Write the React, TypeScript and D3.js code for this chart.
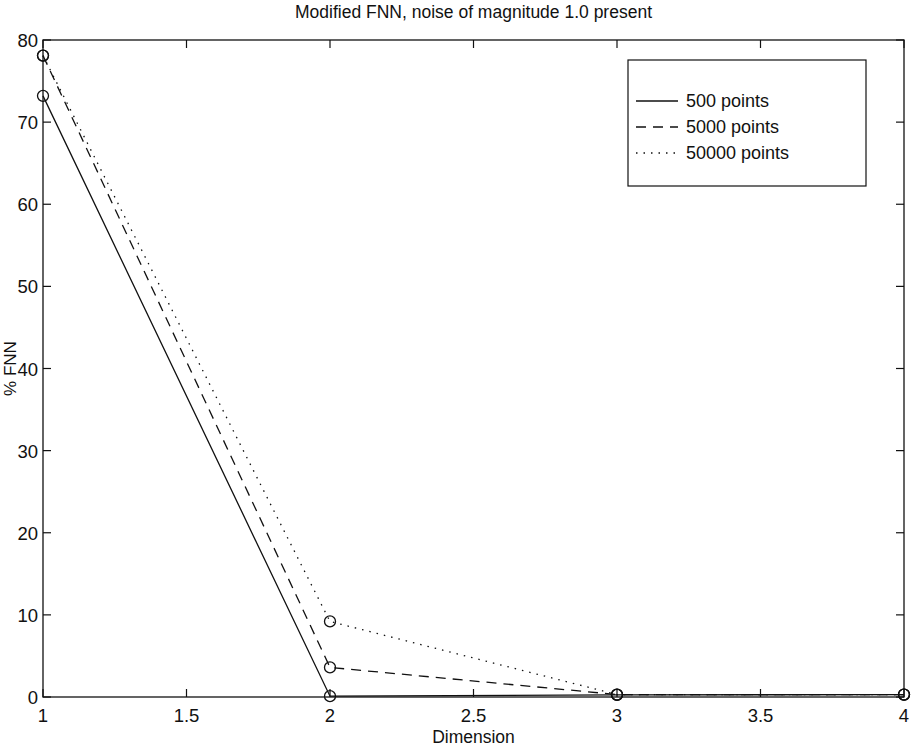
import React from "react";
import * as d3 from "d3";

const dimensions = [1, 2, 3, 4];
const fnn500 = [73.2, 0.1, 0.25, 0.3];
const fnn5000 = [78.1, 3.6, 0.3, 0.3];
const fnn50000 = [78.1, 9.2, 0.3, 0.3];
const seriesLabels = ["500 points", "5000 points", "50000 points"];
const xTicks = [1, 1.5, 2, 2.5, 3, 3.5, 4];
const yTicks = [0, 10, 20, 30, 40, 50, 60, 70, 80];

const W = 911, H = 751;
const L = 43, R = 904, T = 40, B = 697;

export default function App() {
  const x = d3.scaleLinear().domain([1, 4]).range([L, R]);
  const y = d3.scaleLinear().domain([0, 80]).range([B, T]);
  const line = d3.line<number>().x((_, i) => x(dimensions[i])).y((d) => y(d));
  const series = [
    { v: fnn500, dash: undefined as string | undefined },
    { v: fnn5000, dash: "10,7" },
    { v: fnn50000, dash: "1.5,6" },
  ];
  const font = "'Liberation Sans', Arial, Helvetica, sans-serif";
  const lg = { x: 628, y: 60, w: 238, h: 126 };
  return (
    <svg width={W} height={H} style={{ position: "absolute", left: 0, top: 0, background: "#fff" }} fontFamily={font}>
      <rect x={0} y={0} width={W} height={H} fill="#fff" />
      <text x={(L + R) / 2} y={18} textAnchor="middle" fontSize={17.5} fill="#111">
        Modified FNN, noise of magnitude 1.0 present
      </text>
      <rect x={L} y={T} width={R - L} height={B - T} fill="none" stroke="#111" strokeWidth={1.3} />
      {xTicks.map((t) => (
        <g key={"x" + t}>
          <line x1={x(t)} x2={x(t)} y1={B} y2={B - 8} stroke="#111" strokeWidth={1.2} />
          <line x1={x(t)} x2={x(t)} y1={T} y2={T + 8} stroke="#111" strokeWidth={1.2} />
          <text x={x(t)} y={B + 25} textAnchor="middle" fontSize={18.5} fill="#111">{t}</text>
        </g>
      ))}
      {yTicks.map((t) => (
        <g key={"y" + t}>
          <line x1={L} x2={L + 8} y1={y(t)} y2={y(t)} stroke="#111" strokeWidth={1.2} />
          <line x1={R} x2={R - 8} y1={y(t)} y2={y(t)} stroke="#111" strokeWidth={1.2} />
          <text x={L - 5} y={y(t) + 7} textAnchor="end" fontSize={18.5} fill="#111">{t}</text>
        </g>
      ))}
      <text x={(L + R) / 2} y={B + 46} textAnchor="middle" fontSize={17.5} fill="#111">Dimension</text>
      <text transform={`translate(16,${(T + B) / 2}) rotate(-90)`} textAnchor="middle" fontSize={17} fill="#111">% FNN</text>
      {series.map((s, i) => (
        <g key={i}>
          <path d={line(s.v) || ""} fill="none" stroke="#111" strokeWidth={1.3} strokeDasharray={s.dash} />
          {s.v.map((v, j) => (
            <circle key={j} cx={x(dimensions[j])} cy={y(v)} r={5.5} fill="none" stroke="#111" strokeWidth={1.3} />
          ))}
        </g>
      ))}
      <rect x={lg.x} y={lg.y} width={lg.w} height={lg.h} fill="#fff" stroke="#111" strokeWidth={1.2} />
      {seriesLabels.map((lab, i) => {
        const yy = lg.y + 41 + i * 26;
        return (
          <g key={lab}>
            <line x1={lg.x + 8} x2={lg.x + 50} y1={yy} y2={yy} stroke="#111" strokeWidth={1.3} strokeDasharray={series[i].dash} />
            <text x={lg.x + 58} y={yy + 6} fontSize={18} fill="#111">{lab}</text>
          </g>
        );
      })}
    </svg>
  );
}
